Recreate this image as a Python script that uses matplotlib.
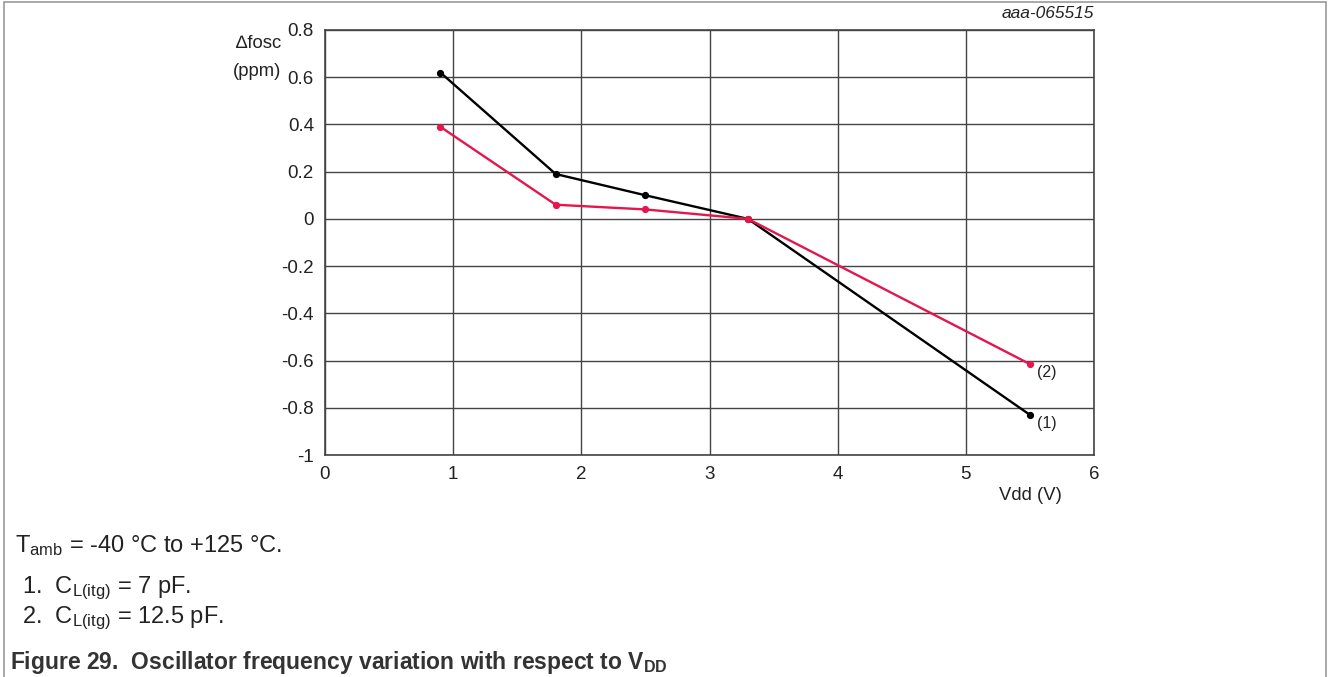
import numpy as np
import matplotlib.pyplot as plt
from matplotlib.patches import Rectangle

plt.rcParams['font.family'] = ['Liberation Sans', 'DejaVu Sans']
plt.rcParams['mathtext.fontset'] = 'custom'
plt.rcParams['mathtext.rm'] = 'Liberation Sans'
plt.rcParams['mathtext.it'] = 'Liberation Sans:italic'
plt.rcParams['mathtext.bf'] = 'Liberation Sans:bold'
plt.rcParams['mathtext.default'] = 'regular'

# data
vdd = [0.9, 1.8, 2.5, 3.3, 5.5]
df_1 = [0.62, 0.19, 0.10, 0.0, -0.83]   # CL = 7 pF
df_2 = [0.39, 0.06, 0.04, 0.0, -0.615]  # CL = 12.5 pF
xticks = [0, 1, 2, 3, 4, 5, 6]
yticks = [-1, -0.8, -0.6, -0.4, -0.2, 0, 0.2, 0.4, 0.6, 0.8]
ytick_labels = ['-1', '-0.8', '-0.6', '-0.4', '-0.2', '0', '0.2', '0.4', '0.6', '0.8']

W, H = 1328, 677
fig = plt.figure(figsize=(W / 100, H / 100), dpi=100)
ax = fig.add_axes([325 / W, 1 - 455 / H, (1094 - 325) / W, (455 - 30) / H])

gridc = '#444444'
txtc = '#222222'
ax.plot(vdd, df_1, color='black', lw=1.7, marker='o', ms=4.2, zorder=3)
ax.plot(vdd, df_2, color='#e3174d', lw=1.7, marker='o', ms=4.2, zorder=3)

ax.set_xlim(0, 6)
ax.set_ylim(-1, 0.8)
ax.set_xticks(xticks)
ax.set_yticks(yticks)
ax.set_yticklabels(ytick_labels)
ax.grid(True, color=gridc, lw=1.0)
ax.set_axisbelow(True)
for s in ax.spines.values():
    s.set_color(gridc)
    s.set_linewidth(1.2)
ax.tick_params(length=0, labelsize=13.5, pad=8, colors=txtc)

ax.annotate('(2)', (vdd[-1], df_2[-1]), xytext=(5, -6), textcoords='offset points',
            fontsize=11.5, va='center', ha='left', color=txtc)
ax.annotate('(1)', (vdd[-1], df_1[-1]), xytext=(5, -6), textcoords='offset points',
            fontsize=11.5, va='center', ha='left', color=txtc)

# axis labels
fig.text(281 / W, 1 - 43 / H, '\u2206fosc', ha='right', va='center', fontsize=13.3, color=txtc)
fig.text(281 / W, 1 - 71 / H, '(ppm)', ha='right', va='center', fontsize=13.3, color=txtc)
fig.text(1030 / W, 1 - 495 / H, 'Vdd (V)', ha='center', va='center', fontsize=13.3, color=txtc)
fig.text(1094 / W, 1 - 13 / H, 'aaa-065515', ha='right', va='center', fontsize=12.5,
         style='italic', color=txtc)

# notes below chart
fig.text(15 / W, 1 - 546 / H, 'T$_{amb}$ = -40 °C to +125 °C.', ha='left', va='center',
         fontsize=17, color=txtc)
fig.text(22 / W, 1 - 588 / H, '1.  C$_{L(itg)}$ = 7 pF.', ha='left', va='center',
         fontsize=17, color=txtc)
fig.text(22 / W, 1 - 618 / H, '2.  C$_{L(itg)}$ = 12.5 pF.', ha='left', va='center',
         fontsize=17, color=txtc)
fig.text(10 / W, 1 - 662 / H, 'Figure 29.  Oscillator frequency variation with respect to V$_{\\mathbf{DD}}$',
         ha='left', va='center', fontsize=16.5, fontweight='bold', color='#333333')

# outer frame
fig.patches.append(Rectangle((4 / W, -0.05), (1326 - 4) / W, 1 - 2 / H + 0.05,
                             transform=fig.transFigure, fill=False,
                             edgecolor='#999999', lw=1.2))

fig.savefig('out.png', dpi=100)
